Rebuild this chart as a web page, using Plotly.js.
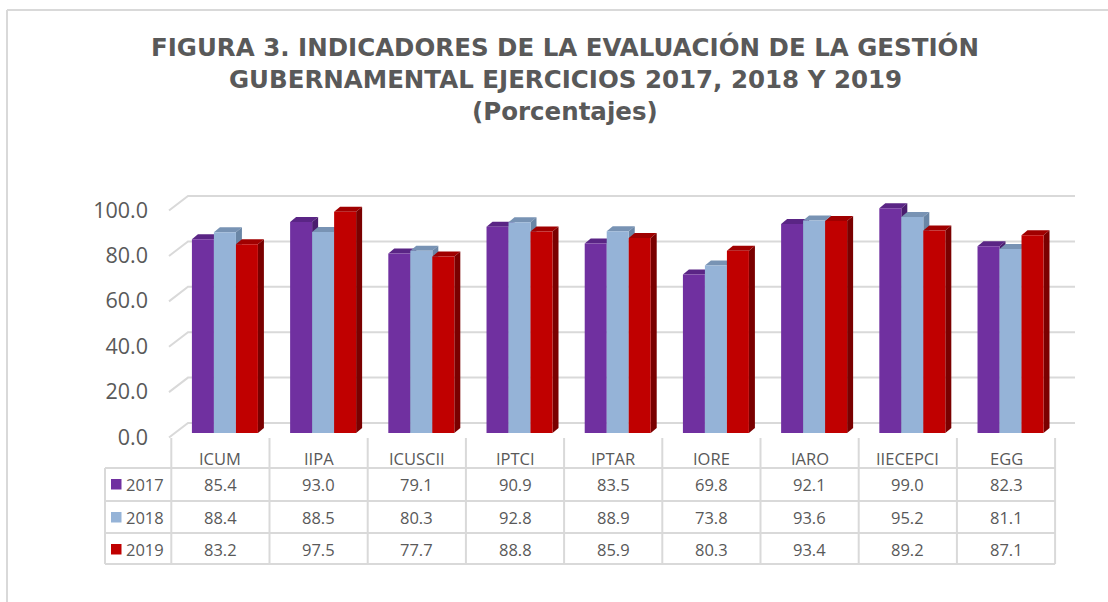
<!DOCTYPE html>
<html>
<head>
<meta charset="utf-8">
<script src="https://cdn.plot.ly/plotly-3.0.1.min.js"></script>
<style>html,body{margin:0;padding:0;background:#fff;} #chart{width:1108px;height:602px;}</style>
</head>
<body>
<div id="chart"></div>
<script>
// ---- data ----
const categories = ['ICUM','IIPA','ICUSCII','IPTCI','IPTAR','IORE','IARO','IIECEPCI','EGG'];
const years = ['2017','2018','2019'];
const v2017 = [85.4,93.0,79.1,90.9,83.5,69.8,92.1,99.0,82.3];
const v2018 = [88.4,88.5,80.3,92.8,88.9,73.8,93.6,95.2,81.1];
const v2019 = [83.2,97.5,77.7,88.8,85.9,80.3,93.4,89.2,87.1];
const yTicks = [0,20,40,60,80,100];
const titleLines = ['FIGURA 3. INDICADORES DE LA EVALUACIÓN DE LA GESTIÓN',
                    'GUBERNAMENTAL EJERCICIOS 2017, 2018 Y 2019',
                    '(Porcentajes)'];

const series = [v2017, v2018, v2019];
const frontColors = ['#7030A0','#95B3D7','#C00000'];
const topColors   = ['#5A2585','#7893B4','#A00000'];
const sideColors  = ['#4A1D6E','#6A86A6','#7A0000'];

// ---- layout geometry (page pixels -> axis units) ----
const W = 1108, H = 602;
const colPx = 98.2, col0Px = 220.4;   // category spacing / first column centre
const yPxPerUnit = 2.27, y0Px = 433;  // bar floor
const X = p => (p - col0Px) / colPx;
const Y = p => (y0Px - p) / yPxPerUnit;
const PX = p => p / W, PY = p => 1 - p / H;

const barW = 0.224, groupShift = 0.046;
const dx = 6 / colPx, dy = 5 / yPxPerUnit;

const traces = series.map((vals, k) => ({
  type: 'bar', name: years[k], x: categories, y: vals,
  width: barW, offset: -1.5 * barW + groupShift + k * barW,
  marker: {color: frontColors[k], line: {width: 0}},
  hoverinfo: 'x+y+name', showlegend: false
}));

const shapes = [];
const gridColor = '#D9D9D9';
// outer frame
shapes.push({type:'line', xref:'paper', yref:'paper', x0:PX(7), x1:1, y0:PY(10), y1:PY(10), line:{color:gridColor, width:2}});
shapes.push({type:'line', xref:'paper', yref:'paper', x0:PX(7), x1:PX(7), y0:PY(10), y1:0, line:{color:gridColor, width:2}});
// back-wall gridlines with perspective
yTicks.forEach(v => {
  shapes.push({type:'path', layer:'below', xref:'x', yref:'y',
    path:`M ${X(169)},${v-2} L ${X(188)},${v+4.4} L ${X(1075)},${v+4.4}`,
    line:{color:gridColor, width:2}});
});
// 3D faces of bars
series.forEach((vals, k) => {
  const off = -1.5 * barW + groupShift + k * barW;
  vals.forEach((v, i) => {
    const x0 = i + off, x1 = x0 + barW;
    shapes.push({type:'path', layer:'below', xref:'x', yref:'y',
      path:`M ${x0},${v} L ${x1},${v} L ${x1+dx},${v+dy} L ${x0+dx},${v+dy} Z`,
      fillcolor: topColors[k], line:{width:0}});
    shapes.push({type:'path', layer:'below', xref:'x', yref:'y',
      path:`M ${x1},0 L ${x1},${v} L ${x1+dx},${v+dy} L ${x1+dx},${dy} Z`,
      fillcolor: sideColors[k], line:{width:0}});
  });
});
// data table grid
const rowLinesPx = [468, 501, 533, 564];
const tableLeft = X(105), tableRight = categories.length - 0.5;
rowLinesPx.forEach(p => shapes.push({type:'line', xref:'x', yref:'y',
  x0: tableLeft, x1: tableRight, y0: Y(p), y1: Y(p), line:{color:gridColor, width:2}}));
for (let i = 0; i <= categories.length; i++) {
  shapes.push({type:'line', xref:'x', yref:'y', x0: i - 0.5, x1: i - 0.5,
    y0: Y(438), y1: Y(564), line:{color:gridColor, width:2}});
}
shapes.push({type:'line', xref:'x', yref:'y', x0: tableLeft, x1: tableLeft,
  y0: Y(468), y1: Y(564), line:{color:gridColor, width:2}});

const annotations = [];
const txtColor = '#595959';
const tFont = {family:'Open Sans, sans-serif', size:16.5, color:txtColor};
categories.forEach((c, i) => annotations.push({xref:'x', yref:'y', x:i, y:Y(458),
  text:c, showarrow:false, font:tFont, xanchor:'center', yanchor:'middle'}));
const rowPx = [484, 517, 549];
series.forEach((vals, k) => {
  annotations.push({xref:'x', yref:'y', x:X(145), y:Y(rowPx[k]), text:years[k],
    showarrow:false, font:tFont, xanchor:'center', yanchor:'middle'});
  shapes.push({type:'rect', xref:'x', yref:'y', x0:X(111), x1:X(121.5),
    y0:Y(rowPx[k]+5.5), y1:Y(rowPx[k]-5), fillcolor:frontColors[k], line:{width:0}});
  vals.forEach((v, i) => annotations.push({xref:'x', yref:'y', x:i, y:Y(rowPx[k]),
    text:v.toFixed(1), showarrow:false, font:tFont, xanchor:'center', yanchor:'middle'}));
});
// title
const titlePx = [47, 79, 111];
titleLines.forEach((t, j) => annotations.push({xref:'paper', yref:'paper', x:PX(565), y:PY(titlePx[j]),
  text:'<b>'+t+'</b>', showarrow:false, xanchor:'center', yanchor:'middle',
  font:{family:'DejaVu Sans, sans-serif', size:24.5, color:txtColor}}));

const layout = {
  width: W, height: H, margin:{l:0, r:0, t:0, b:0},
  paper_bgcolor:'#FFFFFF', plot_bgcolor:'#FFFFFF',
  barmode:'overlay', showlegend:false,
  xaxis:{type:'category', range:[X(0), X(W)], visible:false, fixedrange:true},
  yaxis:{range:[Y(H), Y(0)], anchor:'free', position:PX(148), side:'left',
    showgrid:false, zeroline:false, showline:false, ticks:'',
    tickvals: yTicks, ticktext: yTicks.map(v => v.toFixed(1)),
    tickfont:{family:'Open Sans, sans-serif', size:21.5, color:txtColor},
    ticklabelshift:4, fixedrange:true},
  shapes: shapes, annotations: annotations
};

Plotly.newPlot('chart', traces, layout, {displayModeBar:false, staticPlot:true});
</script>
</body>
</html>
